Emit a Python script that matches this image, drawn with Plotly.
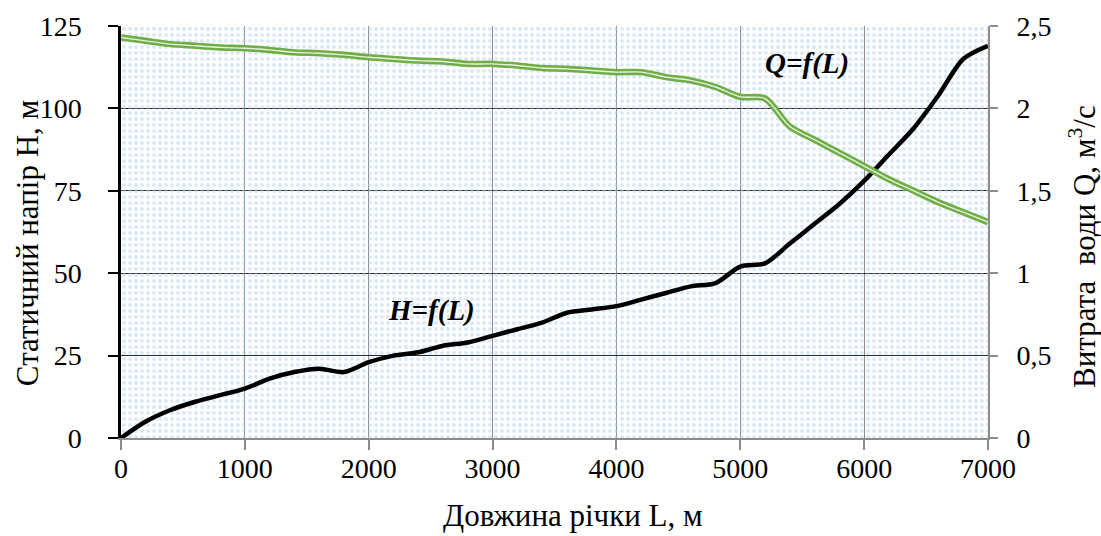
import plotly.graph_objects as go

# ---- data ----
L = [0, 200, 400, 600, 800, 1000, 1200, 1400, 1600, 1800, 2000, 2200, 2400, 2600,
     2800, 3000, 3200, 3400, 3600, 3800, 4000, 4200, 4400, 4600, 4800, 5000, 5200,
     5400, 5600, 5800, 6000, 6200, 6400, 6600, 6800, 7000]
H = [0, 5, 8.5, 11, 13, 15, 18, 20, 21, 20, 23, 25, 26, 28,
     29, 31, 33, 35, 38, 39, 40, 42, 44, 46, 47, 52, 53,
     59, 65, 71, 78, 86, 94, 104, 115, 119]
Q = [2.43, 2.41, 2.39, 2.38, 2.37, 2.365, 2.355, 2.34, 2.335, 2.325, 2.31, 2.30, 2.29, 2.285,
     2.27, 2.27, 2.26, 2.245, 2.24, 2.23, 2.22, 2.22, 2.19, 2.17, 2.13, 2.07, 2.06,
     1.89, 1.81, 1.73, 1.65, 1.57, 1.50, 1.43, 1.37, 1.31]

x_ticks = [0, 1000, 2000, 3000, 4000, 5000, 6000, 7000]
x_labels = ["0", "1000", "2000", "3000", "4000", "5000", "6000", "7000"]
h_ticks = [0, 25, 50, 75, 100, 125]
h_labels = ["0", "25", "50", "75", "100", "125"]
q_ticks = [0, 0.5, 1, 1.5, 2, 2.5]
q_labels = ["0", "0,5", "1", "1,5", "2", "2,5"]

X_RANGE = [0, 7000]
H_RANGE = [0, 125]
Q_RANGE = [0, 2.5]

FONT = "Liberation Serif, Times New Roman, serif"
TICK_FS = 28
TITLE_FS = 31
LABEL_FS = 29

fig = go.Figure()

# dotted plot-area background (pattern fill over the full axis range)
fig.add_trace(go.Scatter(
    x=[X_RANGE[0], X_RANGE[1], X_RANGE[1], X_RANGE[0], X_RANGE[0]],
    y=[H_RANGE[0], H_RANGE[0], H_RANGE[1], H_RANGE[1], H_RANGE[0]],
    fill="toself", mode="none", fillcolor="rgba(0,0,0,0)",
    fillpattern=dict(shape=".", fgcolor="#b2d1f0", bgcolor="rgba(0,0,0,0)",
                     size=6, solidity=0.33),
    hoverinfo="skip", showlegend=False))

# Q = f(L): green double line
fig.add_trace(go.Scatter(x=L, y=Q, yaxis="y2", mode="lines",
                         line=dict(color="#70ad47", width=6.5, shape="spline", smoothing=0.8),
                         hoverinfo="skip", showlegend=False))
fig.add_trace(go.Scatter(x=L, y=Q, yaxis="y2", mode="lines",
                         line=dict(color="rgba(235,245,228,0.95)", width=1.4, shape="spline", smoothing=0.8),
                         showlegend=False))

# H = f(L): black line
fig.add_trace(go.Scatter(x=L, y=H, mode="lines",
                         line=dict(color="black", width=4.5, shape="spline", smoothing=0.8),
                         showlegend=False))

# curve labels
fig.add_annotation(x=5540, y=2.27, yref="y2", text="<b><i>Q=f(L)</i></b>", showarrow=False,
                   font=dict(family=FONT, size=LABEL_FS, color="black"), xanchor="center", yanchor="middle")
fig.add_annotation(x=2510, y=38.8, text="<b><i>H=f(L)</i></b>", showarrow=False,
                   font=dict(family=FONT, size=LABEL_FS, color="black"), xanchor="center", yanchor="middle")

# axis titles (placed as paper annotations)
fig.add_annotation(xref="paper", yref="paper", x=-0.1084, y=0.473, text="Статичний напір Н, м",
                   textangle=-90, showarrow=False, xanchor="center", yanchor="middle",
                   font=dict(family=FONT, size=TITLE_FS, color="black"))
fig.add_annotation(xref="paper", yref="paper", x=1.1096, y=0.4636,
                   text="Витрата\u00a0 води Q, м<sup>3</sup>/с",
                   textangle=-90, showarrow=False, xanchor="center", yanchor="middle",
                   font=dict(family=FONT, size=TITLE_FS, color="black"))
fig.add_annotation(xref="paper", yref="paper", x=0.5213, y=-0.187, text="Довжина річки L, м",
                   showarrow=False, xanchor="center", yanchor="middle",
                   font=dict(family=FONT, size=TITLE_FS, color="black"))

fig.update_layout(
    width=1101, height=536,
    margin=dict(l=121, r=113, t=26, b=98),
    paper_bgcolor="white", plot_bgcolor="white",
    font=dict(family=FONT, size=TICK_FS, color="black"),
    xaxis=dict(range=X_RANGE, tickvals=x_ticks, ticktext=x_labels, automargin=False,
               showgrid=True, gridcolor="#8c8c8c", gridwidth=1.3, zeroline=False,
               showline=True, linecolor="#8c8c8c", linewidth=2,
               ticks="outside", ticklen=10, tickwidth=2, tickcolor="#8c8c8c",
               ticklabelstandoff=-6, tickfont=dict(size=TICK_FS)),
    yaxis=dict(range=H_RANGE, tickvals=h_ticks, ticktext=h_labels, automargin=False,
               showgrid=True, gridcolor="#2a2a2a", gridwidth=1, zeroline=False,
               showline=True, linecolor="black", linewidth=2.5,
               ticks="outside", ticklen=10, tickwidth=2, tickcolor="black",
               ticklabelstandoff=21, tickfont=dict(size=TICK_FS)),
    yaxis2=dict(range=Q_RANGE, tickvals=q_ticks, ticktext=q_labels, automargin=False,
                overlaying="y", side="right", showgrid=False, zeroline=False,
                showline=True, linecolor="#8c8c8c", linewidth=2,
                ticks="outside", ticklen=8, tickwidth=2, tickcolor="#8c8c8c",
                ticklabelstandoff=13, tickfont=dict(size=TICK_FS)),
)

fig.write_html("out.html", config={"displayModeBar": False},
               post_script="document.body.style.margin='0';document.body.style.padding='0';")
